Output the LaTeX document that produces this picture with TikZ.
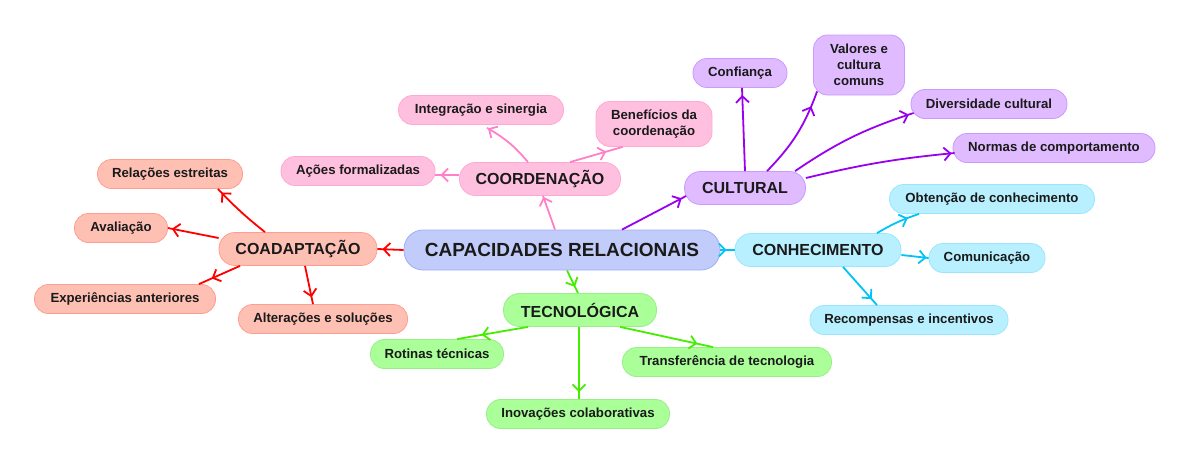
\documentclass[tikz,border=0pt]{standalone}
\usepackage{fontspec}
\setmainfont{Liberation Sans}
\usetikzlibrary{arrows.meta,decorations.markings}
\definecolor{rootF}{HTML}{C2CCFA}\definecolor{rootD}{HTML}{9FAEF5}
\definecolor{pinkF}{HTML}{FFC0E0}\definecolor{pinkD}{HTML}{FFA8D4}\definecolor{pinkL}{HTML}{FF80C8}
\definecolor{purF}{HTML}{E0BBFF}\definecolor{purD}{HTML}{CC99FF}\definecolor{purL}{HTML}{9900EE}
\definecolor{cyaF}{HTML}{B8F0FF}\definecolor{cyaD}{HTML}{99E6FF}\definecolor{cyaL}{HTML}{00C4F5}
\definecolor{greF}{HTML}{AAFF99}\definecolor{greD}{HTML}{99EE88}\definecolor{greL}{HTML}{44EE00}
\definecolor{salF}{HTML}{FFC0B4}\definecolor{salD}{HTML}{FF9E90}\definecolor{salL}{HTML}{FF0000}
\definecolor{txt}{HTML}{1A1A1A}
\tikzset{
  box/.style={rounded corners=14pt, draw, line width=0.8pt, align=center, inner sep=0pt,
    minimum height=29pt, text=txt, font=\bfseries\fontsize{13.2}{16}\selectfont},
  mid/.style={box, minimum height=33pt, rounded corners=16pt, font=\bfseries\fontsize{16}{19}\selectfont},
  rootbox/.style={box, minimum height=40pt, rounded corners=19pt, fill=rootF, draw=rootD, font=\bfseries\fontsize{19}{23}\selectfont},
  pinkbox/.style={fill=pinkF, draw=pinkD},
  purbox/.style={fill=purF, draw=purD},
  cyabox/.style={fill=cyaF, draw=cyaD},
  grebox/.style={fill=greF, draw=greD},
  salbox/.style={fill=salF, draw=salD},
  conn/.style={line width=1.8pt},
  tipat/.style={postaction={decorate}, decoration={markings,
     mark=at position -#1 with {\arrow{Straight Barb[length=6.5pt,width=13pt,line width=1.8pt]}}}},
}
\begin{document}
\begin{tikzpicture}[x=1pt,y=-1pt]
\useasboundingbox (0,0) rectangle (1190,464);
% nodes
\node[rootbox, minimum width=316pt] (root) at (562,250) {CAPACIDADES RELACIONAIS};

\node[mid, pinkbox, minimum width=161pt] (coord) at (540,179) {COORDENAÇÃO};
\node[box, pinkbox, minimum width=154pt] (acoes) at (358,171) {Ações formalizadas};
\node[box, pinkbox, minimum width=165pt] (integ) at (481,110) {Integração e sinergia};
\node[box, pinkbox, minimum width=116pt, minimum height=45pt] (benef) at (654,124) {Benefícios da\\coordenação};

\node[mid, purbox, minimum width=121pt] (cult) at (745,188) {CULTURAL};
\node[box, purbox, minimum width=94pt] (conf) at (740,73) {Confiança};
\node[box, purbox, minimum width=91pt, minimum height=60pt] (valor) at (859,65) {Valores e\\cultura\\comuns};
\node[box, purbox, minimum width=156pt] (diver) at (989,104) {Diversidade cultural};
\node[box, purbox, minimum width=202pt] (normas) at (1054,148) {Normas de comportamento};

\node[mid, cyabox, minimum width=166pt] (conh) at (818,250) {CONHECIMENTO};
\node[box, cyabox, minimum width=205pt] (obten) at (992,199) {Obtenção de conhecimento};
\node[box, cyabox, minimum width=116pt] (comun) at (987,258) {Comunicação};
\node[box, cyabox, minimum width=198pt] (recomp) at (909,320) {Recompensas e incentivos};

\node[mid, grebox, minimum width=153pt] (tecn) at (580,310) {TECNOLÓGICA};
\node[box, grebox, minimum width=133pt] (rotin) at (437,354) {Rotinas técnicas};
\node[box, grebox, minimum width=209pt] (transf) at (727,362) {Transferência de tecnologia};
\node[box, grebox, minimum width=183pt] (inov) at (578,414) {Inovações colaborativas};

\node[mid, salbox, minimum width=158pt] (coad) at (298,249) {COADAPTAÇÃO};
\node[box, salbox, minimum width=145pt] (relac) at (170,174) {Relações estreitas};
\node[box, salbox, minimum width=93pt] (aval) at (121,228) {Avaliação};
\node[box, salbox, minimum width=181pt] (exper) at (125,299) {Experiências anteriores};
\node[box, salbox, minimum width=169pt] (alter) at (323,319) {Alterações e soluções};

% start points on the parent borders
\path (root.north) ++(-7,0) coordinate (r1);
\path (root.north) ++(60,0) coordinate (r2);
\path (root.south) ++(5,0) coordinate (r3);
\path (coord.north) ++(-12,0) coordinate (c1);
\path (coord.north) ++(30,0) coordinate (c2);
\path (coord.west) ++(0,-4) coordinate (c3);
\path (cult.north) ++(0,0) coordinate (u0);
\path (cult.north) ++(22,0) coordinate (u1);
\path (cult.north) ++(50,0) coordinate (u2);
\path (cult.east) ++(0,-10) coordinate (u3);
\path (conh.north) ++(59,0) coordinate (k1);
\path (conh.east) ++(0,5) coordinate (k0);
\path (conh.south) ++(25,0) coordinate (k2);
\path (tecn.south) ++(-52,0) coordinate (t1);
\path (tecn.south) ++(-1,0) coordinate (t0);
\path (tecn.south) ++(40,0) coordinate (t2);
\path (coad.north) ++(-33,0) coordinate (a1);
\path (coad.west) ++(0,-11) coordinate (a2);
\path (coad.south) ++(-58,0) coordinate (a3);
\path (coad.south) ++(7,0) coordinate (a4);
% end points on the child borders
\path (coord.south) ++(3,0) coordinate (e-coord);
\path (cult.west) ++(2,8) coordinate (e-cult);
\path (tecn.north) ++(-2,0) coordinate (e-tecn);
\path (acoes.east) ++(0,4) coordinate (e-acoes);
\path (integ.south) ++(6,3) coordinate (e-integ);
\path (benef.south west) ++(27,0) coordinate (e-benef);
\path (conf.south) ++(2,0) coordinate (e-conf);
\path (valor.south west) ++(4,-4) coordinate (e-valor);
\path (diver.west) ++(3,9) coordinate (e-diver);
\path (normas.west) ++(2,5) coordinate (e-normas);
\path (obten.south west) ++(30,0) coordinate (e-obten);
\path (recomp.north) ++(-32,0) coordinate (e-recomp);
\path (rotin.north) ++(20,0) coordinate (e-rotin);
\path (inov.north) ++(1,0) coordinate (e-inov);
\path (transf.north) ++(-14,0) coordinate (e-transf);
\path (relac.south east) ++(-25,0) coordinate (e-relac);
\path (exper.north east) ++(-17,0) coordinate (e-exper);
\path (alter.north) ++(-10,0) coordinate (e-alter);

% connectors
\draw[conn, pinkL, tipat=1pt] (r1) -- (e-coord);
\draw[conn, purL, tipat=5pt] (r2) -- (e-cult);
\draw[conn, cyaL, tipat=8pt] (root.east) -- (conh.west);
\draw[conn, greL, tipat=7pt] (r3) -- (e-tecn);
\draw[conn, salL, tipat=5pt] (root.west) -- (coad.east);

\draw[conn, pinkL, tipat=5pt] (c3) -- (e-acoes);
\draw[conn, pinkL, tipat=1pt] (c1) to[bend right=10] (e-integ);
\draw[conn, pinkL, tipat=17pt] (c2) -- (e-benef);

\draw[conn, purL, tipat=7pt] (u0) -- (e-conf);
\draw[conn, purL, tipat=16pt] (u1) to[bend right=12] (e-valor);
\draw[conn, purL, tipat=5pt] (u2) to[bend left=8] (e-diver);
\draw[conn, purL, tipat=3pt] (u3) to[bend left=4] (e-normas);

\draw[conn, cyaL, tipat=12pt] (k1) to[bend left=6] (e-obten);
\draw[conn, cyaL, tipat=2pt] (k0) -- (comun.west);
\draw[conn, cyaL, tipat=8pt] (k2) -- (e-recomp);

\draw[conn, greL, tipat=25pt] (t1) -- (e-rotin);
\draw[conn, greL, tipat=7pt] (t0) -- (e-inov);
\draw[conn, greL, tipat=16pt] (t2) -- (e-transf);

\draw[conn, salL, tipat=5pt] (a1) to[bend left=4] (e-relac);
\draw[conn, salL, tipat=4pt] (a2) -- (aval.east);
\draw[conn, salL, tipat=14pt] (a3) -- (e-exper);
\draw[conn, salL, tipat=7pt] (a4) -- (e-alter);
\end{tikzpicture}
\end{document}
